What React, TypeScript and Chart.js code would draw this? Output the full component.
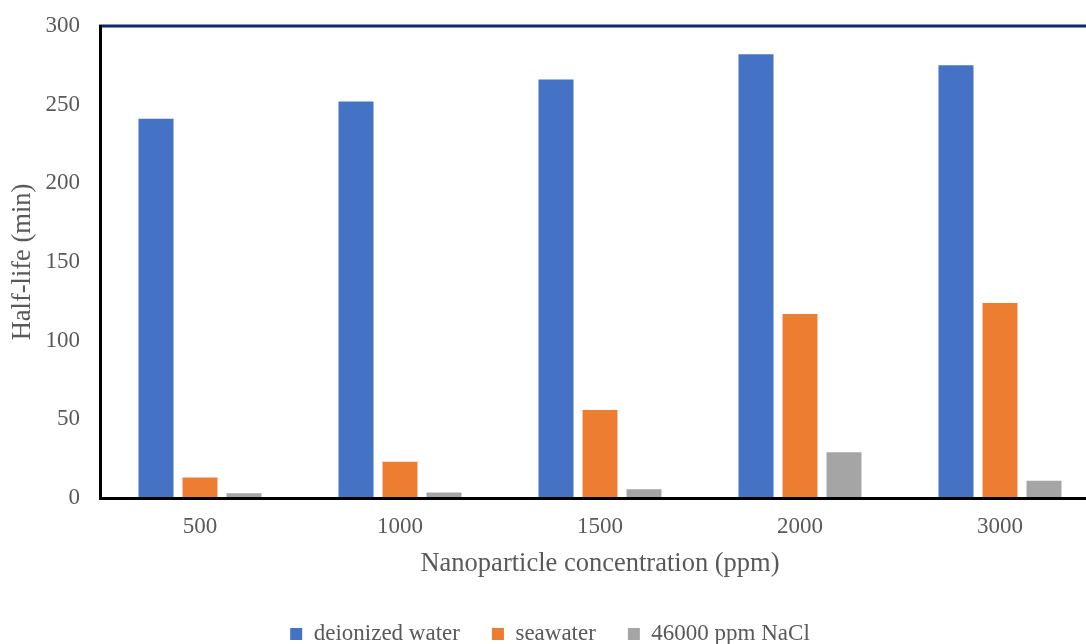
import React, { useEffect, useRef } from 'react';
import { Chart, registerables } from 'chart.js';

Chart.register(...registerables);

const categories = ['500', '1000', '1500', '2000', '3000'];
const deionizedWater = [241, 252, 266, 282, 275];
const seawater = [13, 23, 56, 117, 124];
const nacl46000 = [3, 3.5, 5.5, 29, 11];
const seriesNames = ['deionized water', 'seawater', '46000 ppm NaCl'];
const seriesColors = ['#4472C4', '#ED7D31', '#A5A5A5'];
const yMin = 0;
const yMax = 300;
const yStep = 50;
const xTitle = 'Nanoparticle concentration (ppm)';
const yTitle = 'Half-life (min)';

const FONT = "'Times New Roman', 'Liberation Serif', serif";
const TEXT = '#595959';

const topBorder = {
  id: 'topBorder',
  afterDatasetsDraw(chart: any) {
    const { ctx, chartArea } = chart;
    ctx.save();
    ctx.strokeStyle = '#0B2A66';
    ctx.lineWidth = 3;
    ctx.beginPath();
    ctx.moveTo(chartArea.left - 1, chartArea.top);
    ctx.lineTo(chartArea.right, chartArea.top);
    ctx.stroke();
    ctx.restore();
  },
};

export default function App() {
  const ref = useRef<HTMLCanvasElement | null>(null);

  useEffect(() => {
    if (!ref.current) return;
    const data = [deionizedWater, seawater, nacl46000];
    const chart = new Chart(ref.current, {
      type: 'bar',
      data: {
        labels: categories,
        datasets: seriesNames.map((name, i) => ({
          label: name,
          data: data[i],
          backgroundColor: seriesColors[i],
          borderWidth: 0,
          categoryPercentage: 0.66,
          barPercentage: 0.795,
        })),
      },
      options: {
        responsive: false,
        animation: false,
        devicePixelRatio: 1,
        layout: { padding: { top: 26, left: 0, right: 0, bottom: -11.5 } },
        plugins: {
          legend: {
            position: 'bottom',
            labels: {
              boxWidth: 12,
              boxHeight: 12,
              padding: 32,
              color: TEXT,
              font: { family: FONT, size: 23 },
            },
          },
          tooltip: { enabled: false },
        },
        scales: {
          x: {
            grid: { display: false, drawTicks: false },
            border: { display: true, color: '#000', width: 3, z: 1 },
            ticks: { color: TEXT, font: { family: FONT, size: 23 }, padding: 15.5 },
            title: {
              display: true,
              text: xTitle,
              color: TEXT,
              font: { family: FONT, size: 26.5 },
              padding: { top: 0, bottom: 10.5 },
            },
            afterFit: (s: any) => {
              s.height = 92.5;
            },
          },
          y: {
            min: yMin,
            max: yMax,
            grid: { display: false, drawTicks: false },
            border: { display: true, color: '#000', width: 3, z: 1 },
            ticks: { stepSize: yStep, color: TEXT, font: { family: FONT, size: 23 }, padding: 20 },
            title: {
              display: true,
              text: yTitle,
              color: TEXT,
              font: { family: FONT, size: 26.5 },
              padding: { top: 7, bottom: 0 },
            },
            afterFit: (s: any) => {
              s.width = 100;
              s.paddingTop = 0;
              s.paddingBottom = 0;
            },
          },
        },
      },
      plugins: [topBorder],
    } as any);
    return () => chart.destroy();
  }, []);

  return (
    <div
      style={{
        position: 'absolute',
        left: 0,
        top: 0,
        width: 1086,
        height: 644,
        overflow: 'hidden',
        background: '#fff',
      }}
    >
      <canvas ref={ref} width={1100} height={644} style={{ display: 'block', width: 1100, height: 644 }} />
    </div>
  );
}
